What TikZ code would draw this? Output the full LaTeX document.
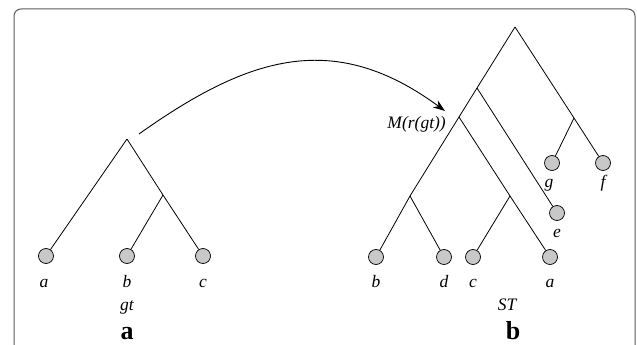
\documentclass[tikz,border=0pt]{standalone}
\usepackage{fontspec}
\setmainfont{Liberation Serif}
\usetikzlibrary{arrows.meta}
\definecolor{leaffill}{RGB}{200,200,200}
\definecolor{framecol}{RGB}{90,90,90}
\begin{document}
\begin{tikzpicture}[x=1pt,y=-1pt,
  leaf/.style={circle,draw=black,fill=leaffill,line width=0.7pt,minimum size=15pt,inner sep=0pt},
  branch/.style={line width=0.8pt,black},
  lbl/.style={anchor=base,inner sep=0pt,font=\fontsize{17.5}{17.5}\selectfont\itshape},
  panel/.style={anchor=base,inner sep=0pt,font=\fontsize{26}{26}\selectfont\bfseries},
  mapping/.style={line width=0.9pt,-{Stealth[length=12pt,width=8.5pt]}}]
\useasboundingbox (0,0) rectangle (637,345);
\clip (0,0) rectangle (637,345);
\draw[framecol,line width=1pt,rounded corners=7pt] (14,9) rectangle (635,380);

% left tree (gt)
\coordinate (L) at (127,139);
\coordinate (Li) at (163,195);
\node[leaf] (la) at (46,256) {};
\node[leaf] (lb) at (127,256) {};
\node[leaf] (lc) at (203,256) {};
\draw[branch] (L) -- (la);
\draw[branch] (L) -- (Li) -- (lc);
\draw[branch] (Li) -- (lb);
\node[lbl] (ta) at (44,287) {a};
\node[lbl] (tb) at (127,287) {b};
\node[lbl] (tc) at (203,287) {c};
\node[lbl] (tgt) at (127,310) {gt};
\node[panel] (pa) at (127,339) {a};

% right tree (ST)
\coordinate (R) at (515,27);
\coordinate (n1) at (477,88);
\coordinate (M) at (459,117);
\coordinate (bd) at (410,196);
\coordinate (ca) at (510,196);
\coordinate (gf) at (574,118);
\node[leaf] (rb) at (376,257) {};
\node[leaf] (rd) at (444,257) {};
\node[leaf] (rc) at (473,257) {};
\node[leaf] (ra) at (550,257) {};
\node[leaf] (re) at (557,213) {};
\node[leaf] (rg) at (552,163) {};
\node[leaf] (rf) at (603,163) {};
\draw[branch] (R) -- (n1) -- (M) -- (bd) -- (rb);
\draw[branch] (bd) -- (rd);
\draw[branch] (n1) -- (re);
\draw[branch] (M) -- (ca) -- (ra);
\draw[branch] (ca) -- (rc);
\draw[branch] (R) -- (gf) -- (rf);
\draw[branch] (gf) -- (rg);
\node[lbl] (sb) at (376,287) {b};
\node[lbl] (sd) at (444,287) {d};
\node[lbl] (sc) at (473,287) {c};
\node[lbl] (sa) at (550,287) {a};
\node[lbl] (se) at (557,237) {e};
\node[lbl] (sg) at (549,187) {g};
\node[lbl] (sf) at (603,187) {f};
\node[lbl] (sST) at (507,310) {ST};
\node[panel] (pb) at (513,339) {b};
\node[lbl,anchor=base east] (mlab) at (446,128) {M(r(gt))};

% mapping arrow
\coordinate (astart) at (139,134);
\coordinate (aend) at (445,111);
\draw[mapping] (astart) .. controls (250,55) and (335,30) .. (aend);
\end{tikzpicture}
\end{document}
